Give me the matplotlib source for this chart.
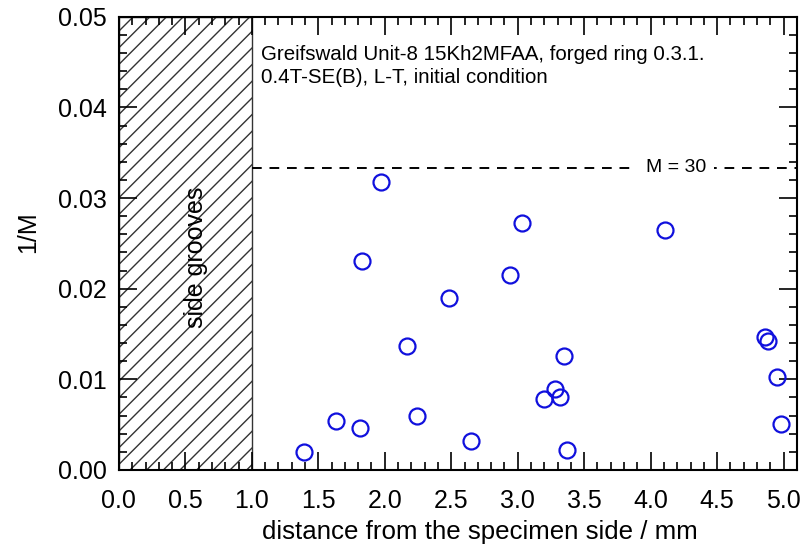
import matplotlib
matplotlib.use("Agg")
import matplotlib.pyplot as plt
from matplotlib.patches import Rectangle
from matplotlib.ticker import MultipleLocator, FormatStrFormatter

# distance from specimen side (mm) and 1/M
distance = [1.39, 1.63, 1.81, 1.83, 1.97, 2.17, 2.24, 2.48, 2.65, 2.94, 3.03,
            3.20, 3.28, 3.32, 3.35, 3.37, 4.11, 4.86, 4.88, 4.95, 4.98]
inv_m = [0.0020, 0.0054, 0.0046, 0.0231, 0.0318, 0.0137, 0.0059, 0.0190,
         0.0032, 0.0215, 0.0273, 0.0078, 0.0089, 0.0081, 0.0126, 0.0022,
         0.0265, 0.0147, 0.0142, 0.0103, 0.0051]

groove_width = 1.0
m_limit = 30

plt.rcParams["font.family"] = ["Liberation Sans", "DejaVu Sans"]

fig = plt.figure(figsize=(8.09, 5.5), dpi=100)
ax = fig.add_axes([0.147, 0.1455, 0.838, 0.824])

ax.add_patch(Rectangle((0, 0), groove_width, 0.05, facecolor="white",
                       edgecolor="#333333", hatch="//", linewidth=1.0, zorder=1))
ax.text(0.58, 0.0235, "side grooves", rotation=90, ha="center", va="center",
        fontsize=18, zorder=3)

ax.plot([groove_width, 5.1], [1 / m_limit, 1 / m_limit], color="black",
        linestyle=(0, (5, 4)), linewidth=1.4, zorder=2)
ax.text(4.19, 1 / m_limit, "M = 30", ha="center", va="center", fontsize=14,
        bbox=dict(facecolor="white", edgecolor="none", pad=6), zorder=3)

ax.text(1.07, 0.0469, "Greifswald Unit-8 15Kh2MFAA, forged ring 0.3.1.\n"
        "0.4T-SE(B), L-T, initial condition", ha="left", va="top",
        fontsize=14.8, linespacing=1.25, zorder=3)

ax.plot(distance, inv_m, linestyle="none", marker="o", markersize=11.5,
        markerfacecolor="none", markeredgecolor="#1010dd",
        markeredgewidth=1.6, zorder=4)

ax.set_xlim(0, 5.1)
ax.set_ylim(0, 0.05)
ax.xaxis.set_major_locator(MultipleLocator(0.5))
ax.xaxis.set_minor_locator(MultipleLocator(0.1))
ax.yaxis.set_major_locator(MultipleLocator(0.01))
ax.yaxis.set_minor_locator(MultipleLocator(0.002))
ax.xaxis.set_major_formatter(FormatStrFormatter("%.1f"))
ax.yaxis.set_major_formatter(FormatStrFormatter("%.2f"))
ax.tick_params(which="both", direction="in", top=True, right=True,
               labelsize=18, width=1.2)
ax.tick_params(which="major", length=13)
ax.tick_params(axis="x", which="major", pad=14)
ax.tick_params(axis="y", which="major", pad=9)
ax.tick_params(which="minor", length=6)
for s in ax.spines.values():
    s.set_linewidth(1.5)

ax.set_xlabel("distance from the specimen side / mm", fontsize=18.6)
ax.set_ylabel("1/M", fontsize=18)
ax.xaxis.set_label_coords(0.532, -0.11)
ax.yaxis.set_label_coords(-0.1165, 0.525)

fig.savefig("out.png", dpi=100)
